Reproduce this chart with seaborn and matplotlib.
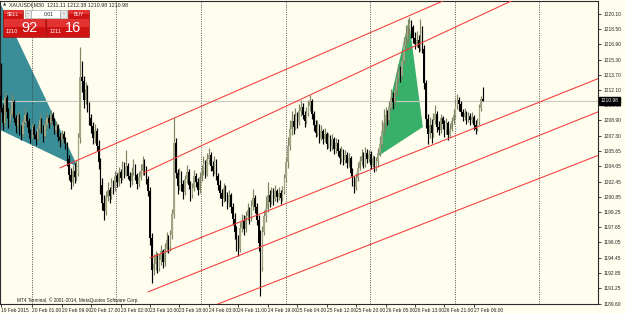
import numpy as np
import pandas as pd
import matplotlib
matplotlib.use("Agg")
import matplotlib.pyplot as plt
from matplotlib.patches import Polygon, Rectangle
import seaborn as sns

# ---------------- data (XAUUSDf, M30 bars) ----------------
first_open = 1211.5
closes = [
    1210.2, 1208.6, 1211.3, 1209.8, 1208.9, 1209.6, 1210.8, 1209.1, 1208.3, 1209.4, 1208.0, 1207.5, 1208.7, 1209.5, 1208.8, 1207.6, 1207.1, 1208.2, 1207.4, 1206.9, 1208.0, 1208.9, 1208.1,
    1207.3, 1208.4, 1209.2, 1208.6, 1209.5, 1208.8, 1207.9, 1208.3, 1207.2, 1206.8, 1207.5, 1206.9, 1206.3,
    1204.8, 1203.2, 1202.4, 1203.6, 1202.9, 1203.4,
    1207.0, 1213.5, 1213.0, 1211.0, 1212.2, 1210.4, 1209.1,
    1208.3, 1207.0, 1207.8, 1206.2, 1204.5, 1202.1, 1200.2, 1199.4,
    1200.8, 1201.6, 1200.9, 1202.3, 1201.8, 1203.0, 1202.4, 1203.5, 1202.8, 1203.9, 1203.2, 1204.1, 1203.0, 1202.5, 1203.4, 1204.0, 1203.1, 1202.2, 1202.9,
    1203.6, 1204.3, 1203.8, 1202.7, 1201.5,
    1196.5, 1193.2, 1193.8,
    1194.6, 1193.4, 1194.2, 1195.1, 1194.0, 1195.4, 1196.3, 1195.6, 1196.8,
    1199.0, 1206.5, 1203.4, 1202.0, 1203.1,
    1202.2, 1201.4, 1202.7, 1203.5, 1202.1, 1201.0, 1201.8, 1203.0, 1202.4, 1201.6, 1202.9,
    1203.6, 1204.4, 1203.2, 1204.8, 1205.3, 1204.1, 1203.6, 1204.5, 1203.0,
    1202.1, 1201.3, 1200.6, 1201.8, 1200.9, 1200.2, 1201.0, 1199.8,
    1198.5, 1197.2, 1196.0, 1195.4, 1197.6,
    1198.3, 1197.5, 1198.8, 1199.5, 1198.6, 1199.9, 1200.7, 1199.8, 1198.4,
    1196.0, 1193.5, 1197.2,
    1198.8, 1199.6, 1201.0, 1200.3, 1201.2, 1200.6, 1201.5, 1200.8, 1201.3, 1200.7, 1201.4,
    1202.8, 1204.5, 1206.2, 1208.0, 1208.8,
    1208.2, 1209.4, 1208.7, 1209.9, 1210.3, 1209.5, 1208.8, 1209.7, 1210.4, 1210.9,
    1209.6, 1208.4, 1207.6, 1208.3, 1207.0, 1207.8, 1206.9, 1207.5, 1206.4, 1207.1, 1206.2, 1206.9, 1205.9,
    1206.5, 1205.7, 1204.9, 1205.6, 1204.7, 1205.3, 1204.4, 1204.9,
    1203.4, 1202.5, 1201.9, 1202.8, 1203.9,
    1204.6, 1205.2, 1204.3, 1205.5, 1204.8, 1205.4, 1204.2, 1204.9, 1203.9, 1204.6,
    1205.5, 1206.4, 1207.8, 1208.6, 1209.5, 1208.9, 1210.2, 1211.3, 1210.8, 1212.0, 1213.4, 1214.1, 1213.6, 1215.2, 1216.8, 1217.5, 1218.6, 1219.2, 1218.7,
    1217.6, 1216.9, 1217.4, 1216.5, 1217.2, 1216.4,
    1212.8, 1209.0, 1207.5,
    1208.4, 1207.6, 1208.9, 1209.6, 1208.2, 1207.9, 1209.1, 1208.5, 1207.8, 1208.6, 1207.4, 1208.0, 1208.8, 1209.5,
    1210.4, 1211.0, 1210.6, 1209.8,
    1209.3, 1209.7, 1209.0, 1209.4, 1208.9, 1209.3, 1208.4, 1208.0, 1208.7,
    1210.2, 1211.11, 1210.98,
]
highs = [
    1214.9, 1210.6, 1211.9, 1211.6, 1210.2, 1210.1, 1211.7, 1211.0, 1209.5, 1209.9, 1209.6, 1208.4, 1209.0, 1210.2, 1209.8, 1209.1, 1208.0, 1208.6, 1208.5, 1207.8, 1208.4, 1209.6, 1209.2,
    1208.4, 1208.9, 1209.7, 1209.5, 1210.0, 1209.8, 1209.1, 1208.8, 1208.5, 1207.6, 1207.9, 1207.8, 1207.2,
    1206.6, 1205.3, 1203.9, 1204.2, 1204.4, 1204.7,
    1207.6, 1216.6, 1215.2, 1213.6, 1212.9, 1212.6, 1210.8,
    1209.6, 1208.7, 1208.5, 1208.1, 1206.8, 1204.9, 1202.8, 1201.0,
    1201.5, 1202.4, 1201.9, 1202.8, 1202.6, 1203.6, 1203.4, 1204.0, 1203.8, 1204.6, 1204.5, 1205.8, 1204.4, 1203.5, 1204.0, 1204.8, 1204.3, 1203.4, 1203.6,
    1204.3, 1205.2, 1204.8, 1204.1, 1203.0,
    1201.9, 1197.0, 1194.8,
    1195.2, 1194.9, 1194.8, 1195.8, 1195.4, 1196.0, 1197.1, 1196.8, 1197.4,
    1199.6, 1209.2, 1207.0, 1203.8, 1203.9,
    1203.6, 1202.6, 1203.1, 1204.2, 1203.8, 1202.5, 1202.3, 1203.7, 1203.4, 1202.8, 1203.5,
    1204.2, 1205.1, 1204.7, 1205.5, 1206.0, 1205.6, 1204.6, 1205.2, 1204.8,
    1203.4, 1202.6, 1201.7, 1202.3, 1202.1, 1201.4, 1201.6, 1201.3,
    1200.2, 1199.1, 1197.8, 1196.8, 1198.2,
    1199.0, 1198.9, 1199.4, 1200.2, 1199.8, 1200.5, 1201.7, 1201.0, 1200.2,
    1198.9, 1197.4, 1197.8,
    1199.5, 1200.9, 1202.4, 1201.6, 1201.9, 1201.8, 1202.1, 1201.7, 1201.9, 1201.6, 1202.0,
    1203.3, 1205.0, 1207.1, 1208.9, 1209.9,
    1209.6, 1210.2, 1209.8, 1210.6, 1211.0, 1210.7, 1209.9, 1210.3, 1211.0, 1211.6,
    1211.1, 1209.9, 1208.9, 1208.9, 1208.5, 1208.4, 1208.0, 1208.1, 1207.7, 1207.6, 1207.4, 1207.5, 1207.2,
    1207.0, 1206.9, 1206.0, 1206.2, 1205.9, 1205.8, 1205.6, 1205.5,
    1205.1, 1203.9, 1203.0, 1203.4, 1204.5,
    1205.1, 1205.9, 1205.6, 1206.1, 1205.9, 1205.8, 1205.7, 1205.3, 1205.2, 1205.0,
    1206.0, 1207.3, 1208.9, 1210.1, 1210.3, 1210.0, 1210.9, 1212.2, 1211.9, 1212.9, 1214.2, 1214.8, 1214.6, 1215.9, 1217.7, 1218.9, 1219.6, 1219.8, 1219.5,
    1218.9, 1218.2, 1218.3, 1217.9, 1219.6, 1218.8,
    1216.8, 1213.2, 1209.6,
    1209.3, 1209.0, 1209.7, 1210.5, 1209.9, 1208.8, 1209.6, 1209.4, 1208.9, 1209.2, 1208.8, 1208.6, 1209.3, 1210.1,
    1211.1, 1211.7, 1211.4, 1210.9,
    1210.1, 1210.2, 1209.9, 1209.8, 1209.7, 1209.8, 1209.5, 1208.9, 1209.2,
    1210.6, 1211.5, 1212.38,
]
lows = [
    1209.8, 1207.9, 1208.2, 1209.2, 1208.1, 1208.5, 1209.3, 1208.7, 1207.6, 1208.0, 1207.4, 1206.8, 1207.2, 1208.3, 1208.2, 1207.0, 1206.5, 1206.9, 1206.9, 1206.3, 1206.7, 1207.7, 1207.6,
    1206.6, 1207.0, 1208.0, 1208.1, 1208.3, 1208.4, 1207.5, 1207.6, 1206.7, 1206.1, 1206.4, 1206.5, 1205.9,
    1204.1, 1202.6, 1201.7, 1202.0, 1202.3, 1202.5,
    1203.0, 1206.5, 1211.9, 1210.2, 1210.6, 1209.8, 1208.4,
    1207.6, 1206.4, 1206.5, 1205.7, 1203.8, 1201.2, 1199.5, 1198.4,
    1198.9, 1200.4, 1200.2, 1200.6, 1201.2, 1201.5, 1201.9, 1202.0, 1202.3, 1202.6, 1202.8, 1203.0, 1202.7, 1201.9, 1202.1, 1203.2, 1202.6, 1201.7, 1201.9,
    1202.6, 1203.2, 1203.1, 1202.2, 1200.9,
    1195.8, 1191.8, 1192.6,
    1193.2, 1192.8, 1193.0, 1193.7, 1193.4, 1193.6, 1195.0, 1194.9, 1195.1,
    1196.4, 1198.6, 1202.8, 1201.1, 1201.6,
    1201.5, 1200.6, 1201.0, 1202.3, 1201.7, 1200.4, 1200.7, 1201.5, 1201.9, 1201.0, 1201.3,
    1202.5, 1203.1, 1202.8, 1203.0, 1204.3, 1203.6, 1203.0, 1203.3, 1202.6,
    1201.6, 1200.7, 1199.9, 1200.3, 1200.4, 1199.6, 1199.8, 1199.2,
    1197.9, 1196.4, 1195.2, 1194.6, 1195.0,
    1197.1, 1196.8, 1197.2, 1198.4, 1198.0, 1198.3, 1199.5, 1199.2, 1197.9,
    1195.2, 1190.4, 1193.0,
    1196.8, 1198.2, 1199.3, 1199.8, 1200.1, 1200.0, 1200.4, 1200.3, 1200.5, 1200.1, 1200.4,
    1201.1, 1202.4, 1203.9, 1205.8, 1207.4,
    1207.5, 1207.9, 1208.1, 1208.4, 1209.4, 1209.0, 1208.2, 1208.5, 1209.4, 1209.9,
    1209.0, 1207.8, 1207.1, 1207.3, 1206.5, 1206.8, 1206.4, 1206.6, 1205.9, 1206.0, 1205.7, 1205.8, 1205.4,
    1205.5, 1205.1, 1204.3, 1204.5, 1204.2, 1204.4, 1203.9, 1204.0,
    1203.0, 1202.0, 1201.3, 1201.6, 1202.5,
    1203.7, 1204.2, 1203.9, 1204.0, 1204.4, 1204.5, 1203.8, 1204.0, 1203.5, 1203.6,
    1204.0, 1205.2, 1206.1, 1207.4, 1208.1, 1208.4, 1208.6, 1210.0, 1210.1, 1210.5, 1211.6, 1213.1, 1212.9, 1213.3, 1214.8, 1216.2, 1217.0, 1218.0, 1217.6,
    1217.0, 1216.4, 1216.6, 1216.1, 1216.2, 1216.0,
    1212.2, 1208.1, 1206.4,
    1207.0, 1206.5, 1207.2, 1208.5, 1207.7, 1207.4, 1207.6, 1208.0, 1207.2, 1207.5, 1206.8, 1207.1, 1207.8, 1208.5,
    1209.2, 1210.1, 1209.9, 1209.4,
    1208.8, 1208.9, 1208.5, 1208.7, 1208.4, 1208.6, 1207.9, 1207.5, 1207.8,
    1208.4, 1209.9, 1210.98,
]

price_ticks = [1220.10, 1218.50, 1216.90, 1215.30, 1213.70, 1212.10, 1210.50, 1208.90,
               1207.30, 1205.65, 1204.05, 1202.45, 1200.85, 1199.25, 1197.65, 1196.05,
               1194.45, 1192.85, 1191.25, 1189.60]
price_tick_labels = ["1220.10", "1218.50", "1216.90", "1215.30", "1213.70", "1212.10", "1210.50",
                     "1208.90", "1207.30", "1205.65", "1204.05", "1202.45", "1200.85", "1199.25",
                     "1197.65", "1196.05", "1194.45", "1192.85", "1191.25", "1189.60"]
time_tick_bars = [0, 17, 33, 49, 65, 81, 97, 113, 129, 145, 161, 177, 193, 209, 225, 241, 257]
time_tick_labels = ["19 Feb 2015", "20 Feb 01:00", "20 Feb 09:00", "20 Feb 17:00", "23 Feb 02:00",
                    "23 Feb 10:00", "23 Feb 18:00", "24 Feb 03:00", "24 Feb 11:00", "24 Feb 19:00",
                    "25 Feb 04:00", "25 Feb 12:00", "25 Feb 20:00", "26 Feb 05:00", "26 Feb 13:00",
                    "26 Feb 21:00", "27 Feb 06:00"]
day_separator_bars = [17, 63, 109, 155, 201, 247, 293]
bid_price = 1210.98

# channel rays: (start bar, start price, price change per bar)
channel_rays = [
    (32.0, 1203.9, 0.0844),
    (77.2, 1203.36, 0.0905),
    (81.0, 1194.42, 0.0775),
    (79.9, 1190.84, 0.0775),
    (117.0, 1189.5, 0.0757),
]
teal_triangle = [(-6.0, 1223.5), (-6.0, 1208.4), (41.8, 1204.0)]
green_triangle = [(204.3, 1205.05), (221.7, 1219.47), (229.3, 1208.2)]

# ---------------- figure ----------------
sns.set_theme(style="white")
plt.rcParams["font.family"] = ["Liberation Sans", "DejaVu Sans"]

W, H = 625, 313
fig = plt.figure(figsize=(W / 100, H / 100), dpi=100)
bg = "#fffdee"
fig.patch.set_facecolor(bg)
ax = fig.add_axes([0.0, 1 - 304 / H, 598 / W, 303 / H])
ax.set_facecolor(bg)

n = len(closes)
idx = np.arange(n)
opens = np.array([first_open] + closes[:-1])
c = np.array(closes)
hi = np.maximum.reduce([np.array(highs), opens, c])
lo = np.minimum.reduce([np.array(lows), opens, c])
df = pd.DataFrame({"bar": idx, "open": opens, "close": c, "high": hi, "low": lo})
bull = df["close"] >= df["open"]

# drawing objects
ax.add_patch(Polygon(teal_triangle, closed=True, facecolor="#3a8e98", edgecolor="none", zorder=1))
ax.add_patch(Polygon(green_triangle, closed=True, facecolor="#38b06a", edgecolor="none", zorder=1))

for b in day_separator_bars:
    ax.axvline(b - 0.3, color="#3c3c3c", lw=0.6, ls=(0, (1.2, 1.6)), zorder=2)
ax.axhline(bid_price, color="#c9c9c4", lw=0.8, zorder=2)

# candles
wick_col = np.where(bull, "#7d8563", "#000000")
body_col = np.where(bull, "#a0a586", "#000000")
ax.vlines(df["bar"], df["low"], df["high"], colors=wick_col, lw=0.85, zorder=3)
body_bottom = np.minimum(df["open"], df["close"])
body_h = np.maximum(np.abs(df["close"] - df["open"]), 0.08)
ax.bar(df["bar"], body_h, bottom=body_bottom, width=0.75, color=body_col, edgecolor="none", zorder=3)

# channel lines
x_end = 330.0
for (b0, p0, s) in channel_rays:
    seg = pd.DataFrame({"bar": [b0, x_end], "price": [p0, p0 + s * (x_end - b0)]})
    sns.lineplot(data=seg, x="bar", y="price", ax=ax, color="#f23a3a", lw=0.75, zorder=4,
                 legend=False, estimator=None)

ax.set_xlim(-0.54, 324.5)
ax.set_ylim(1189.57, 1221.47)
ax.set_xlabel("")
ax.set_ylabel("")

for sp in ax.spines.values():
    sp.set_color("#2a2a2a")
    sp.set_linewidth(0.8)

ax.yaxis.tick_right()
ax.set_yticks(price_ticks)
ax.set_yticklabels(price_tick_labels)
ax.set_xticks(time_tick_bars)
ax.set_xticklabels(time_tick_labels)
ax.tick_params(axis="y", which="both", right=True, left=False, length=2.5, width=0.6,
               pad=1.2, labelsize=3.5, colors="#222222")
ax.tick_params(axis="x", which="both", bottom=True, length=2, width=0.6,
               pad=1.0, labelsize=3.5, colors="#222222")
for lab in ax.get_xticklabels():
    lab.set_horizontalalignment("left")

# bid price box
ax.text(1.0045, bid_price, "1210.98", transform=ax.get_yaxis_transform(), ha="left", va="center",
        fontsize=3.5, color="white", zorder=6,
        bbox=dict(boxstyle="square,pad=0.3", facecolor="black", edgecolor="black"))

# ---------------- overlay (terminal chrome) in pixel coordinates ----------------
ov = fig.add_axes([0, 0, 1, 1], facecolor="none")
ov.set_xlim(0, W)
ov.set_ylim(H, 0)
ov.axis("off")

ov.text(2.5, 4.8, "▲", fontsize=3.0, color="#333333", va="center", ha="left",
        family=["DejaVu Sans"])
ov.text(9, 4.8, "XAUUSDf,M30  1211.11 1212.38 1210.98 1210.98", fontsize=3.8,
        color="#222222", va="center", ha="left")

red = "#cf1212"
red_top = "#e23232"
def red_box(x0, y0, w, h):
    ov.add_patch(Rectangle((x0, y0), w, h, facecolor=red, edgecolor="#8a0a0a", lw=0.4))
    ov.add_patch(Rectangle((x0 + 0.5, y0 + 0.5), w - 1, h * 0.42, facecolor=red_top,
                           edgecolor="none"))

red_box(3, 9.5, 20, 9)
ov.text(13, 14.2, "SELL", fontsize=3.7, color="white", ha="center", va="center")
ov.add_patch(Rectangle((25, 10), 6, 8, facecolor="#e6e6e6", edgecolor="#999999", lw=0.4))
ov.text(28, 13.8, "-", fontsize=4, color="#333333", ha="center", va="center")
ov.add_patch(Rectangle((31, 10), 29, 8, facecolor="white", edgecolor="#999999", lw=0.4))
ov.text(49, 14.0, "0.01", fontsize=3.7, color="#222222", ha="center", va="center")
ov.add_patch(Rectangle((60, 10), 6.5, 8, facecolor="#e6e6e6", edgecolor="#999999", lw=0.4))
ov.text(63.2, 13.8, "-", fontsize=4, color="#333333", ha="center", va="center")
red_box(68, 9.5, 21, 9)
ov.text(78.5, 14.2, "BUY", fontsize=3.7, color="white", ha="center", va="center")

red_box(3, 18.5, 42.5, 18)
red_box(46, 18.5, 43, 18)
ov.text(6, 31.5, "1210", fontsize=4.0, color="white", ha="left", va="center")
ov.text(21, 28.0, "92", fontsize=10.5, color="white", ha="left", va="center")
ov.text(49.5, 31.5, "1211", fontsize=4.0, color="white", ha="left", va="center")
ov.text(64.5, 28.0, "16", fontsize=10.5, color="white", ha="left", va="center")

ov.text(17, 300.5, "MT4 Terminal, © 2001-2014, MetaQuotes Software Corp.", fontsize=3.4,
        color="#222222", ha="left", va="center")

fig.savefig("out.png", dpi=100, facecolor=fig.get_facecolor())
